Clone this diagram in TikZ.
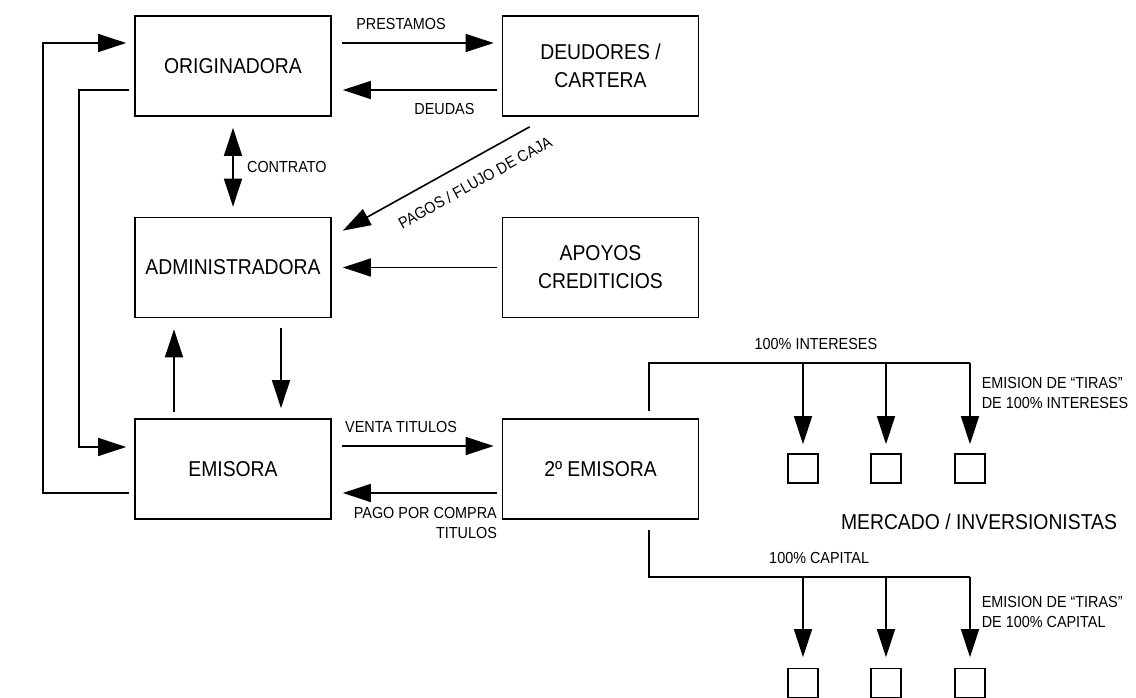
\documentclass[tikz,border=0pt]{standalone}
\usepackage{fontspec}
\setmainfont{Liberation Sans}[FakeStretch=0.9]
\usetikzlibrary{arrows.meta,positioning}

\begin{document}
\begin{tikzpicture}[x=1pt,y=-1pt,>={Triangle[length=28pt,width=18pt]},line width=1.6pt,node distance=201.5pt,
    main node/.style={rectangle,draw,line width=1.7pt,minimum width=196pt,minimum height=100pt,align=center,font=\fontsize{21.5}{28}\selectfont},
    tira node/.style={rectangle,draw,minimum width=30pt,minimum height=29pt,inner sep=0pt},
    small label/.style={font=\fontsize{16}{20}\selectfont}]

            \useasboundingbox (0,0) rectangle (1136,698);

            \node[main node] (orig) at (233,66) {ORIGINADORA};
            \node[main node] (deud) [right of=orig, xshift=166pt] {DEUDORES /\\CARTERA};
            \node[main node] (admin) [below of=orig] {ADMINISTRADORA};
            \node[main node] (apoyos) [below of=deud] {APOYOS\\CREDITICIOS};
            \node[main node] (emis) [below of=admin] {EMISORA};
            \node[main node] (emis2) [below of=apoyos] {2º EMISORA};

            \node[tira node] (t1) at (803,468.5) {};
            \node[tira node] (t2) [right of=t1, node distance=83pt] {};
            \node[tira node] (t3) [right of=t2, node distance=84pt] {};
            \node[tira node] (c1) [below of=t1, node distance=214.5pt] {};
            \node[tira node] (c2) [below of=t2, node distance=214.5pt] {};
            \node[tira node] (c3) [below of=t3, node distance=214.5pt] {};

            \node[font=\fontsize{21.5}{28}\selectfont] (merc) at (979,522) {MERCADO / INVERSIONISTAS};

            \coordinate (ibar) at (649,363);
            \coordinate (cbar) at (649,577);

            % originadora / deudores
            \draw[->] ([shift={(10pt,23pt)}]orig.east) -- node[small label, above=9pt, pos=0.39] {PRESTAMOS} ([shift={(-8pt,23pt)}]deud.west);
            \draw[->] ([shift={(-5pt,-24pt)}]deud.west) -- node[small label, below=9pt, pos=0.34] {DEUDAS} ([shift={(11pt,-24pt)}]orig.east);

            \draw[<->] ([yshift=-11pt]orig.south) -- node[small label, right=10pt] {CONTRATO} ([yshift=10pt]admin.north);
            \draw[<-] ([shift={(11pt,-14pt)}]admin.north east) -- node[small label, sloped, below=12pt, pos=0.65] {PAGOS / FLUJO DE CAJA} ([shift={(28pt,-10pt)}]deud.south west);
            \draw[->] ([xshift=-5pt]apoyos.west) -- ([xshift=11pt]admin.east);

            % administradora / emisora
            \draw[->] ([xshift=-59pt,yshift=6pt]emis.north) -- ([xshift=-59pt,yshift=-11pt]admin.south);
            \draw[->] ([xshift=48pt,yshift=-10pt]admin.south) -- ([xshift=48pt,yshift=10pt]emis.north);

            \draw[->] ([shift={(10pt,23pt)}]emis.east) -- node[small label, above=9pt, pos=0.39] {VENTA TITULOS} ([shift={(-8pt,23pt)}]emis2.west);
            \draw[->] ([shift={(-5pt,-24pt)}]emis2.west) -- node[small label, pos=0, anchor=north east, align=right, inner sep=0pt, xshift=1pt, yshift=-14pt] {PAGO POR COMPRA\\TITULOS} ([shift={(11pt,-24pt)}]emis.east);

            % lazos externos
            \draw[->] ([shift={(-5pt,-24pt)}]orig.west) -- ++(-50,0) |- ([shift={(-8pt,22pt)}]emis.west);
            \draw[->] ([shift={(-5pt,-24pt)}]emis.west) -- ++(-86,0) |- ([shift={(-8pt,23pt)}]orig.west);

            % tiras
            \draw ([xshift=48.5pt,yshift=7pt]emis2.north) -- (ibar) -- node[small label, above=9pt, pos=0.52] {100\% INTERESES} (ibar -| t3);
            \foreach \t in {t1,t2,t3}
                \draw[->] (ibar -| \t) -- ([yshift=9pt]\t.north);
            \node[small label, anchor=north west, align=left, inner sep=0pt, xshift=11pt, yshift=-14pt] (emint) at (ibar -| t3) {EMISION DE “TIRAS”\\DE 100\% INTERESES};

            \draw ([xshift=48.5pt,yshift=-10pt]emis2.south) -- (cbar) -- node[small label, above=9pt, pos=0.53] {100\% CAPITAL} (cbar -| c3);
            \foreach \c in {c1,c2,c3}
                \draw[->] (cbar -| \c) -- ([yshift=10.5pt]\c.north);
            \node[small label, anchor=north west, align=left, inner sep=0pt, xshift=11pt, yshift=-19pt] (emcap) at (cbar -| c3) {EMISION DE “TIRAS”\\DE 100\% CAPITAL};
        \end{tikzpicture}
\end{document}
